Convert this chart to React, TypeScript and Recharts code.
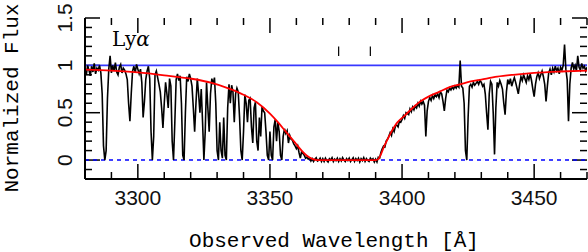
import React from 'react';
import { LineChart, Line, XAxis, YAxis, ReferenceLine } from 'recharts';

// wavelength grid of the spectrum (Å) and normalized flux per pixel
const specStart = 3280;
const specStep = 0.5;
const specFlux = [
  0.97, 0.9, 1.0, 0.95, 0.89, 0.99, 0.93, 1.02, 0.91, 0.97,
  0.95, 1.0, 0.92, 0.7, 0.15, 0.0, 0.1, 0.65, 0.96, 1.1,
  0.92, 1.0, 0.94, 1.03, 0.93, 0.9, 0.98, 1.01, 0.92, 0.97,
  0.95, 0.91, 0.85, 0.6, 0.41, 0.7, 0.94, 0.99, 0.92, 1.01,
  0.96, 0.91, 0.96, 0.82, 0.45, 0.62, 0.85, 0.94, 0.99, 0.86,
  0.3, 0.0, 0.25, 0.9, 0.94, 0.87, 0.8, 0.72, 0.55, 0.34,
  0.6, 0.82, 0.7, 0.55, 0.86, 0.78, 0.2, 0.0, 0.4, 0.85,
  0.91, 0.84, 0.89, 0.6, 0.05, 0.0, 0.5, 0.88, 0.83, 0.91,
  0.86, 0.78, 0.55, 0.3, 0.6, 0.86, 0.7, 0.5, 0.75, 0.4,
  0.0, 0.3, 0.82, 0.55, 0.3, 0.7, 0.86, 0.8, 0.87, 0.6,
  0.1, 0.0, 0.4, 0.1, 0.02, 0.45, 0.05, 0.0, 0.55, 0.8,
  0.6, 0.79, 0.72, 0.4, 0.7, 0.76, 0.72, 0.45, 0.1, 0.0,
  0.3, 0.69, 0.6, 0.4, 0.63, 0.65, 0.35, 0.18, 0.55, 0.61,
  0.2, 0.1, 0.45, 0.25, 0.56, 0.52, 0.5, 0.3, 0.05, 0.0,
  0.3, 0.05, 0.0, 0.35, 0.43, 0.2, 0.4, 0.3, 0.05, 0.0,
  0.25, 0.33, 0.28, 0.31, 0.18, 0.26, 0.22, 0.21, 0.17, 0.15,
  0.12, 0.15, 0.08, 0.02, 0.09, 0.07, 0.05, 0.02, 0.03, 0.01,
  0.02, -0.01, 0.015, -0.015, 0.01, 0.025, -0.01, 0.0, 0.02, -0.015,
  0.015, -0.015, 0.02, -0.005, -0.02, 0.015, 0.0, 0.025, -0.015, 0.01,
  -0.005, 0.02, -0.015, 0.015, -0.01, 0.025, 0.0, -0.015, 0.015, -0.005,
  0.02, -0.015, 0.005, 0.025, -0.015, 0.015, -0.005, 0.02, -0.02, 0.015,
  -0.005, 0.025, -0.015, 0.015, -0.005, -0.015, 0.02, 0.0, 0.015, -0.02,
  0.01, -0.02, 0.03, 0.02, 0.08, 0.12, 0.15, 0.14, 0.2, 0.22,
  0.25, 0.29, 0.26, 0.33, 0.3, 0.36, 0.37, 0.35, 0.41, 0.4,
  0.43, 0.47, 0.44, 0.5, 0.49, 0.48, 0.54, 0.51, 0.56, 0.53,
  0.57, 0.55, 0.6, 0.57, 0.62, 0.59, 0.62, 0.58, 0.25, 0.52,
  0.62, 0.66, 0.63, 0.68, 0.65, 0.69, 0.67, 0.7, 0.66, 0.72,
  0.7, 0.62, 0.52, 0.65, 0.74, 0.72, 0.76, 0.74, 0.77, 0.75,
  0.78, 0.76, 0.79, 0.77, 1.05, 0.78, 0.76, 0.6, 0.1, 0.0,
  0.45, 0.78, 0.8, 0.77, 0.82, 0.79, 0.81, 0.83, 0.8, 0.84,
  0.82, 0.78, 0.8, 0.7, 0.5, 0.32, 0.7, 0.83, 0.8, 0.5,
  0.06, 0.55, 0.82, 0.78, 0.84, 0.8, 0.75, 0.6, 0.48, 0.72,
  0.85, 0.8, 0.86, 0.78, 0.83, 0.87, 0.82, 0.76, 0.7, 0.8,
  0.88, 0.84, 0.9, 0.86, 0.82, 0.89, 0.85, 0.91, 0.84, 0.75,
  0.67, 0.8, 0.88, 0.92, 0.86, 0.9, 0.94, 0.88, 0.8, 0.62,
  0.78, 0.92, 0.96, 0.9, 0.97, 0.93, 0.99, 0.94, 0.97, 0.91,
  0.98, 0.95, 1.0, 1.22, 0.96, 0.85, 0.41, 0.8, 0.97, 1.03,
  0.96, 1.0, 0.94, 1.1, 0.98, 0.95, 1.02, 0.97, 0.99, 0.94,
  0.98,
];

// damped Lya model (red)
const modelWave = [
  3280, 3290, 3300, 3310, 3320, 3328, 3334, 3340, 3345, 3350, 3353, 3356, 3359,
  3362, 3364, 3366, 3368, 3390, 3391, 3392, 3393, 3394, 3396, 3398, 3401, 3404,
  3407, 3410, 3414, 3418, 3422, 3426, 3430, 3436, 3442, 3450, 3460, 3470,
];
const modelFlux = [
  0.955, 0.945, 0.925, 0.895, 0.86, 0.815, 0.76, 0.69, 0.61, 0.49, 0.4, 0.3, 0.2,
  0.1, 0.045, 0.012, 0, 0, 0.01, 0.06, 0.13, 0.19, 0.3, 0.39, 0.47, 0.55,
  0.62, 0.67, 0.72, 0.77, 0.8, 0.83, 0.85, 0.88, 0.9, 0.92, 0.935, 0.945,
];

// continuum level
const contWave = [3280, 3470];
const contFlux = [1, 1];

// small line markers
const markerWave = [3376, 3388];
const markerRange = [1.1, 1.2];

const xTicks = [
  3280, 3290, 3300, 3310, 3320, 3330, 3340, 3350, 3360, 3370, 3380, 3390, 3400,
  3410, 3420, 3430, 3440, 3450, 3460, 3470,
];
const yTicks = [
  -0.2, -0.1, 0, 0.1, 0.2, 0.3, 0.4, 0.5, 0.6, 0.7, 0.8, 0.9, 1, 1.1, 1.2, 1.3,
  1.4, 1.5,
];
const yMajor = [0, 0.5, 1, 1.5];
const yMajorLabels = ['0', '0.5', '1', '1.5'];

const X_MIN = 3280;
const X_MAX = 3470;
const Y_MIN = -0.2;
const Y_MAX = 1.5;

const specData = specFlux.map((f, i) => ({ x: specStart + i * specStep, y: f }));
const modelData = modelWave.map((w, i) => ({ x: w, y: modelFlux[i] }));
const contData = contWave.map((w, i) => ({ x: w, y: contFlux[i] }));

const tickFont = '"Liberation Sans", Arial, sans-serif';
const titleFont = '"Courier New", "Liberation Mono", monospace';

// plot box is 502 x 161 px; tick lengths in px turned into data units
const PLOT_W = 502;
const PLOT_H = 161;
const MAJOR = 15;
const MINOR = 7;
const xPerPx = (X_MAX - X_MIN) / PLOT_W;
const yPerPx = (Y_MAX - Y_MIN) / PLOT_H;

const isMajorX = (v: number) => v % 50 === 0;
const isMajorY = (v: number) => yMajor.some((m) => Math.abs(m - v) < 1e-6);
const yLabel = (v: number) => yMajorLabels[yMajor.findIndex((m) => Math.abs(m - v) < 1e-6)];

const BottomLabel = ({ x, y, payload }: any) =>
  isMajorX(payload.value) ? (
    <text x={x} y={y + 26} textAnchor="middle" fontFamily={tickFont} fontSize={21} fill="#111">
      {payload.value}
    </text>
  ) : null;

const LeftLabel = ({ x, y, payload }: any) =>
  isMajorY(payload.value) ? (
    <text
      x={x - 13}
      y={y}
      textAnchor="middle"
      transform={`rotate(-90 ${x - 13} ${y})`}
      fontFamily={tickFont}
      fontSize={21}
      fill="#111"
    >
      {yLabel(payload.value)}
    </text>
  ) : null;

export default function App() {
  const tickMarks: React.ReactNode[] = [];
  xTicks.forEach((v) => {
    const len = (isMajorX(v) ? MAJOR : MINOR) * yPerPx;
    tickMarks.push(
      <ReferenceLine key={`b${v}`} segment={[{ x: v, y: Y_MIN }, { x: v, y: Y_MIN + len }]} stroke="#000" strokeWidth={1.5} />,
      <ReferenceLine key={`t${v}`} segment={[{ x: v, y: Y_MAX }, { x: v, y: Y_MAX - len }]} stroke="#000" strokeWidth={1.5} />,
    );
  });
  yTicks.forEach((v) => {
    const len = (isMajorY(v) ? MAJOR : MINOR) * xPerPx;
    tickMarks.push(
      <ReferenceLine key={`l${v}`} segment={[{ x: X_MIN, y: v }, { x: X_MIN + len, y: v }]} stroke="#000" strokeWidth={1.5} />,
      <ReferenceLine key={`r${v}`} segment={[{ x: X_MAX, y: v }, { x: X_MAX - len, y: v }]} stroke="#000" strokeWidth={1.5} />,
    );
  });

  return (
    <div style={{ position: 'absolute', left: 0, top: 0, background: '#fff' }}>
      <LineChart width={588} height={252} margin={{ top: 18, right: 1, bottom: 0, left: 0 }}>
        <XAxis
          dataKey="x"
          type="number"
          domain={[X_MIN, X_MAX]}
          ticks={xTicks}
          interval={0}
          allowDataOverflow
          height={73}
          tickSize={0}
          tickMargin={0}
          tickLine={false}
          axisLine={{ stroke: '#000', strokeWidth: 2 }}
          tick={<BottomLabel />}
        />
        <XAxis
          xAxisId="top"
          orientation="top"
          dataKey="x"
          type="number"
          domain={[X_MIN, X_MAX]}
          allowDataOverflow
          height={0}
          tickLine={false}
          tick={false}
          axisLine={{ stroke: '#000', strokeWidth: 2 }}
        />
        <YAxis
          type="number"
          domain={[Y_MIN, Y_MAX]}
          ticks={yTicks}
          interval={0}
          allowDataOverflow
          width={85}
          tickSize={0}
          tickMargin={0}
          tickLine={false}
          axisLine={{ stroke: '#000', strokeWidth: 2 }}
          tick={<LeftLabel />}
        />
        <YAxis
          yAxisId="right"
          orientation="right"
          type="number"
          domain={[Y_MIN, Y_MAX]}
          allowDataOverflow
          width={0}
          tickLine={false}
          tick={false}
          axisLine={{ stroke: '#000', strokeWidth: 2 }}
        />

        {tickMarks}

        {/* zero level, dotted blue */}
        <ReferenceLine y={0} stroke="#0000ff" strokeWidth={1.5} strokeDasharray="4 4" />

        {/* continuum, solid blue */}
        <Line
          data={contData}
          xAxisId="top"
          yAxisId="right"
          dataKey="y"
          stroke="#3838ff"
          strokeWidth={1.8}
          dot={false}
          isAnimationActive={false}
        />

        {/* observed spectrum */}
        <Line
          data={specData}
          dataKey="y"
          type="linear"
          stroke="#000"
          strokeWidth={1.6}
          dot={false}
          isAnimationActive={false}
        />

        {/* DLA fit */}
        <Line
          data={modelData}
          dataKey="y"
          type="monotone"
          stroke="#ff0000"
          strokeWidth={1.8}
          dot={false}
          isAnimationActive={false}
        />

        {markerWave.map((w) => (
          <ReferenceLine
            key={w}
            segment={[
              { x: w, y: markerRange[0] },
              { x: w, y: markerRange[1] },
            ]}
            stroke="#000"
            strokeWidth={1.2}
          />
        ))}

        <text x={112} y={46} fontFamily='"DejaVu Serif", serif' fontSize={20} fill="#000">
          Ly<tspan fontStyle="italic">α</tspan>
        </text>
        <text
          x={334}
          y={247}
          textAnchor="middle"
          fontFamily={titleFont}
          fontSize={21}
          fill="#000"
        >
          Observed Wavelength [Å]
        </text>
        <text
          x={18}
          y={98}
          textAnchor="middle"
          transform="rotate(-90 18 98)"
          fontFamily={titleFont}
          fontSize={21}
          fill="#000"
        >
          Normalized Flux
        </text>
      </LineChart>
    </div>
  );
}
